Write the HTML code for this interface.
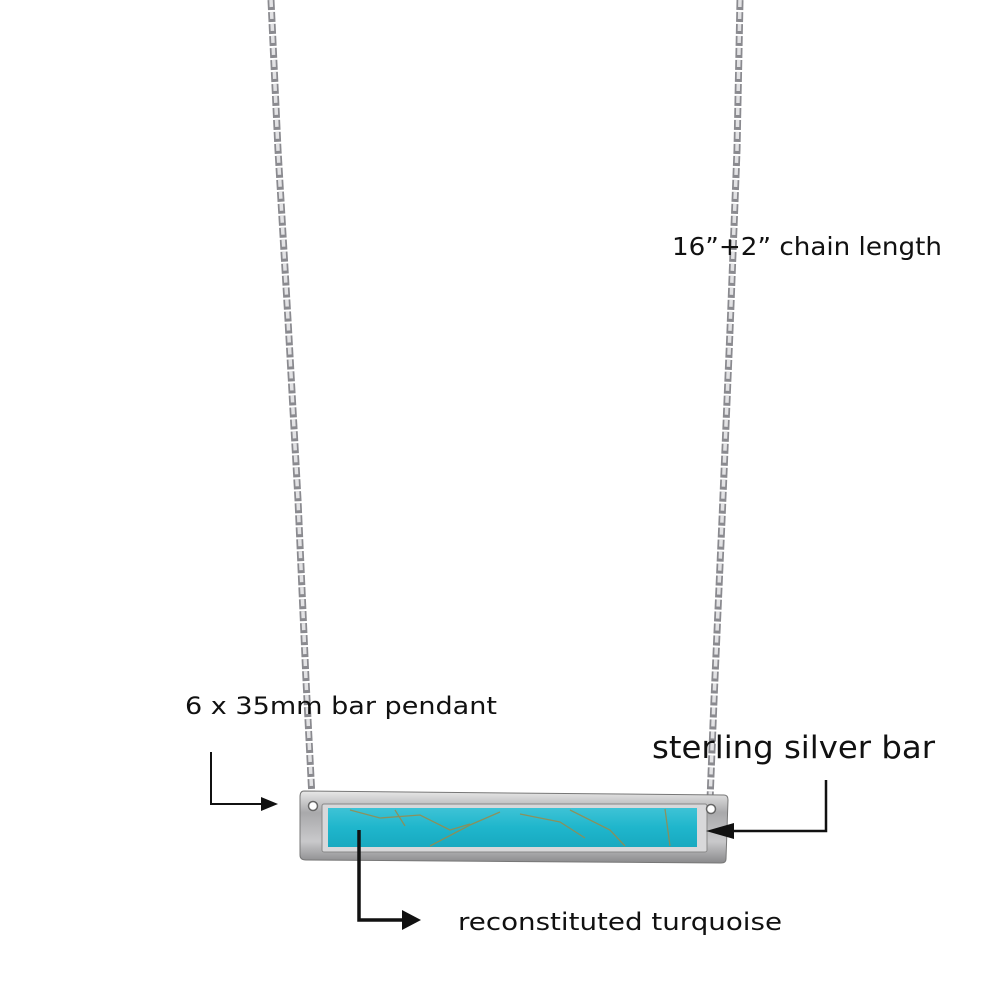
<!DOCTYPE html>
<html><head><meta charset="utf-8"><style>
html,body{margin:0;padding:0;background:#fff;}
svg{display:block;}
text{font-family:"DejaVu Sans","Liberation Sans",sans-serif;fill:#111;}
</style></head><body>
<svg width="1000" height="1000" viewBox="0 0 1000 1000" xmlns="http://www.w3.org/2000/svg">
<defs>
<linearGradient id="silver" x1="0" y1="0" x2="0" y2="1">
<stop offset="0" stop-color="#e8e8e8"/><stop offset="0.3" stop-color="#a9a9ab"/><stop offset="0.7" stop-color="#c9c9cb"/><stop offset="1" stop-color="#8a8a8c"/>
</linearGradient>
<linearGradient id="turq" x1="0" y1="0" x2="0" y2="1">
<stop offset="0" stop-color="#3ec3d6"/><stop offset="0.5" stop-color="#1fb6cc"/><stop offset="1" stop-color="#18a9c0"/>
</linearGradient>
</defs>
<rect width="1000" height="1000" fill="#fff"/>
<!-- chains -->
<g fill="none">
<path d="M271 0 L278 150 L288 320 L298 500 L306 680 L312 798" stroke="#8a8a8f" stroke-width="7" stroke-dasharray="10 2"/>
<path d="M271 0 L278 150 L288 320 L298 500 L306 680 L312 798" stroke="#e2e2e4" stroke-width="3.5" stroke-dasharray="7 5"/>
<path d="M740 0 L737 150 L730 330 L722 520 L714 700 L710 800" stroke="#8a8a8f" stroke-width="7" stroke-dasharray="10 2"/>
<path d="M740 0 L737 150 L730 330 L722 520 L714 700 L710 800" stroke="#e2e2e4" stroke-width="3.5" stroke-dasharray="7 5"/>
</g>
<!-- bar -->
<path d="M304 791 L724 795 Q728 795 728 800 L726 859 Q726 863 721 863 L306 860 Q300 860 300 855 L300 797 Q300 791 304 791 Z" fill="url(#silver)" stroke="#777" stroke-width="1"/>
<rect x="322" y="804" width="385" height="48" rx="2" fill="#d8d8da" stroke="#888" stroke-width="1"/>
<rect x="328" y="808" width="369" height="39" fill="url(#turq)"/>
<g stroke="#9a8a4a" stroke-width="1.3" fill="none" opacity="0.85">
<path d="M350 810 L380 818 L420 815 L450 830 L470 824"/>
<path d="M430 846 L470 825 L500 812"/>
<path d="M520 814 L560 822 L585 838"/>
<path d="M570 810 L610 830 L625 846"/>
<path d="M665 809 L670 846"/>
<path d="M395 810 L405 826"/>
</g>
<circle cx="313" cy="806" r="4.5" fill="#fff" stroke="#666" stroke-width="1.5"/>
<circle cx="711" cy="809" r="4.5" fill="#fff" stroke="#666" stroke-width="1.5"/>
<!-- arrows -->
<path d="M211 752 L211 804 L262 804" fill="none" stroke="#111" stroke-width="2"/>
<path d="M261 797 L278 804 L261 811 Z" fill="#111"/>
<path d="M826 780 L826 831 L732 831" fill="none" stroke="#111" stroke-width="2.5"/>
<path d="M734 823 L706 831 L734 839 Z" fill="#111"/>
<path d="M359 830 L359 920 L404 920" fill="none" stroke="#111" stroke-width="3.5"/>
<path d="M402 910 L421 920 L402 930 Z" fill="#111"/>
<!-- text -->
<text x="672" y="255" font-size="25" textLength="270" lengthAdjust="spacingAndGlyphs">16”+2” chain length</text>
<text x="185" y="714" font-size="24" textLength="312" lengthAdjust="spacingAndGlyphs">6 x 35mm bar pendant</text>
<text x="652" y="758" font-size="31" textLength="283" lengthAdjust="spacingAndGlyphs">sterling silver bar</text>
<text x="458" y="930" font-size="24" textLength="324" lengthAdjust="spacingAndGlyphs">reconstituted turquoise</text>
</svg>
</body></html>
